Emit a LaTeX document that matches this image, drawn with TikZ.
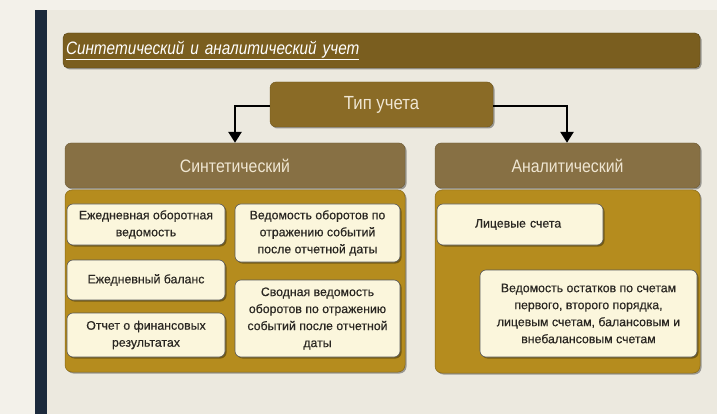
\documentclass[tikz,border=0pt]{standalone}
\usepackage{fontspec}
\setmainfont{Liberation Sans}
\newfontfamily\condfont[FakeStretch=0.88]{Liberation Sans}
\newfontfamily\titlefont[FakeStretch=0.85]{Liberation Sans}
\newfontfamily\itemfont[FakeBold=0.5]{Liberation Sans}
\usetikzlibrary{arrows.meta,shadows}
\definecolor{bgc}{HTML}{ECE9DF}
\definecolor{lbg}{HTML}{F3F1EA}
\definecolor{navy}{HTML}{1C2A3C}
\definecolor{titlec}{HTML}{7A5E1F}
\definecolor{typec}{HTML}{8A6B26}
\definecolor{headc}{HTML}{877044}
\definecolor{goldc}{HTML}{B58C1E}
\definecolor{creamc}{HTML}{FBF6DC}
\definecolor{headtext}{HTML}{EFE6D2}
\definecolor{itemtext}{HTML}{2A2722}
\tikzset{
  shd/.style={drop shadow={shadow xshift=1.5pt, shadow yshift=-1.5pt, opacity=0.35, fill=black}},
  bar/.style={rounded corners=5pt, minimum height=35pt, inner sep=0pt},
  headbox/.style={rounded corners=6pt, fill=headc, draw=headc!80!black, line width=0.4pt, text=headtext, font=\condfont\fontsize{18}{20}\selectfont, inner sep=0pt, minimum height=45pt, shd},
  container/.style={rounded corners=7pt, fill=goldc, draw=goldc!75!black, line width=0.5pt, inner sep=0pt, shd},
  item/.style={rounded corners=6pt, fill=creamc, draw=black!65, line width=0.6pt, text=itemtext, align=center, inner sep=0pt, font=\itemfont\fontsize{12.3}{17}\selectfont, shd},
  conn/.style={line width=2.6pt, -{Triangle[width=13pt,length=11pt]}}
}
\begin{document}
\begin{tikzpicture}[x=1pt,y=-1pt]
\fill[bgc] (0,0) rectangle (717,414);
\fill[lbg] (0,0) rectangle (35,414);
\fill[lbg] (35,0) rectangle (717,10);
\fill[navy] (35,10) rectangle (47,414);

% title bar
\node[bar, fill=titlec, draw=titlec!70!black, shd, minimum width=637pt, text width=631pt, align=left, text=white,
  font=\titlefont\itshape\fontsize{18}{20}\selectfont] (title) at (381.5,50.5) {\underline{Синтетический и аналитический учет}};

% type box
\node[rounded corners=6pt, fill=typec, draw=typec!80!black, shd, minimum width=223pt, minimum height=45pt, inner sep=0pt,
  text=headtext, font=\condfont\fontsize{19}{21}\selectfont] (type) at (381.5,104.5) {Тип учета};

% headers
\node[headbox, minimum width=340pt] (synth) at (235,165.5) {Синтетический};
\node[headbox, minimum width=265pt] (anal) at (567.5,165.5) {Аналитический};

% containers
\node[container, minimum width=340pt, minimum height=182pt] (lcont) at (235,281) {};
\node[container, minimum width=265pt, minimum height=183pt] (rcont) at (567.5,281.5) {};

% left items
\node[item, minimum width=158pt, minimum height=41pt] (i1) at (146,224.5) {Ежедневная оборотная\\ведомость};
\node[item, minimum width=158pt, minimum height=40pt] (i2) at (146,280) {Ежедневный баланс};
\node[item, minimum width=158pt, minimum height=44pt] (i3) at (146,335) {Отчет о финансовых\\результатах};
\node[item, minimum width=165pt, minimum height=58pt] (i4) at (317.5,233) {Ведомость оборотов по\\отражению событий\\после отчетной даты};
\node[item, minimum width=165pt, minimum height=77pt] (i5) at (317.5,318.5) {Сводная ведомость\\оборотов по отражению\\событий после отчетной\\даты};

% right items
\node[item, minimum width=166pt, minimum height=41pt, text width=150pt, align=left] (r1) at (520,224.5) {\hspace*{30pt}Лицевые счета};
\node[item, minimum width=217pt, minimum height=87pt] (r2) at (588.5,313.5) {Ведомость остатков по счетам\\первого, второго порядка,\\лицевым счетам, балансовым и\\внебалансовым счетам};

% connectors
\coordinate (lc) at (235,106);
\coordinate (rc) at (567,106);
\draw[conn] (type.west |- lc) -- (lc) -- (synth.north -| lc);
\draw[conn] (type.east |- rc) -- (rc) -- (anal.north -| rc);
\end{tikzpicture}
\end{document}
